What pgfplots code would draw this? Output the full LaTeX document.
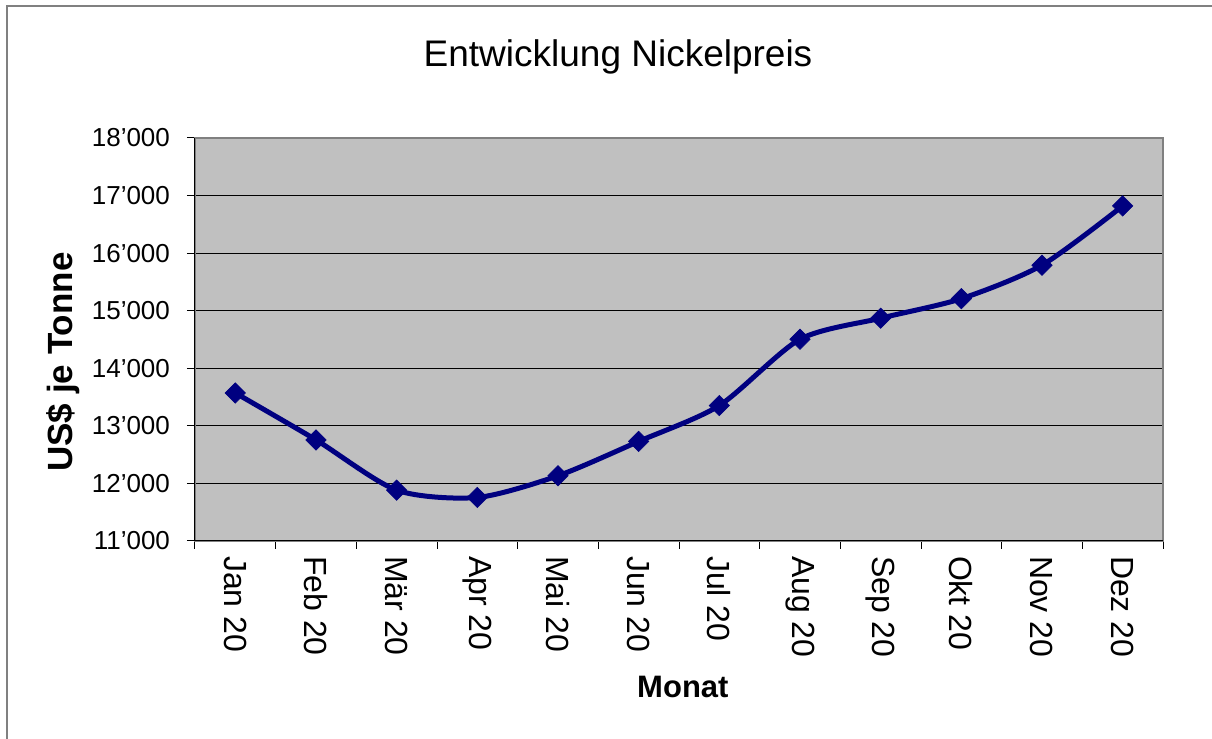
\documentclass[border=0pt]{standalone}
\usepackage{fontspec}
\setmainfont{Liberation Sans}
\usepackage{pgfplots}
\pgfplotsset{compat=1.18}
\definecolor{plotgray}{HTML}{C0C0C0}
\definecolor{navyline}{HTML}{000080}
\begin{document}
\begin{tikzpicture}
\useasboundingbox (0,0) rectangle (606pt,369.5pt);
\draw[gray, line width=0.8pt] (3.5pt,0) -- (3.5pt,366.5pt) -- (606pt,366.5pt);
\node[font=\fontsize{18.5}{20}\selectfont] at (309pt,341pt) {Entwicklung Nickelpreis};
\begin{axis}[
  at={(97.5pt,99pt)}, anchor=south west,
  scale only axis, width=484pt, height=201.5pt,
  xmin=0.5, xmax=12.5, ymin=11000, ymax=18000,
  scaled y ticks=false,
  xtick={1,...,12},
  xticklabels={Jan 20,Feb 20,Mär 20,Apr 20,Mai 20,Jun 20,Jul 20,Aug 20,Sep 20,Okt 20,Nov 20,Dez 20},
  minor xtick={0.5,1.5,...,12.5},
  major x tick style={draw=none},
  ytick={11000,12000,...,18000},
  yticklabels={11’000,12’000,13’000,14’000,15’000,16’000,17’000,18’000},
  tick align=outside, tick pos=left,
  major tick length=4pt, minor tick length=4pt,
  tick style={black, line width=0.5pt},
  ymajorgrids, grid style={black, line width=0.5pt},
  axis background/.style={fill=plotgray},
  axis line style={draw=gray, line width=0.8pt},
  xticklabel style={rotate=-90, anchor=west, font=\fontsize{16}{18}\selectfont, xshift=0pt},
  yticklabel style={font=\fontsize{13}{15}\selectfont, xshift=-5pt},
  xlabel={\textbf{Monat}},
  ylabel={\textbf{US\$ je Tonne}},
  xlabel style={at={(rel axis cs:0.504,-0.362)}, anchor=center, font=\fontsize{15.5}{17}\selectfont},
  ylabel style={at={(rel axis cs:-0.136,0.444)}, anchor=center, font=\fontsize{17.5}{19}\selectfont},
  clip=false,
]
\draw[black, line width=0.5pt] (rel axis cs:0,1) -- (rel axis cs:0,0) -- (rel axis cs:1,0);
\addplot[navyline, line width=2.5pt, smooth, tension=0.45,
  mark=square*, mark size=3.6pt, mark options={rotate=45, solid, line width=0.3pt}]
  coordinates {
  (1,13571) (2,12756) (3,11883) (4,11756) (5,12133) (6,12730)
  (7,13353) (8,14504) (9,14870) (10,15209) (11,15791) (12,16820)
  };
\end{axis}
\end{tikzpicture}
\end{document}
